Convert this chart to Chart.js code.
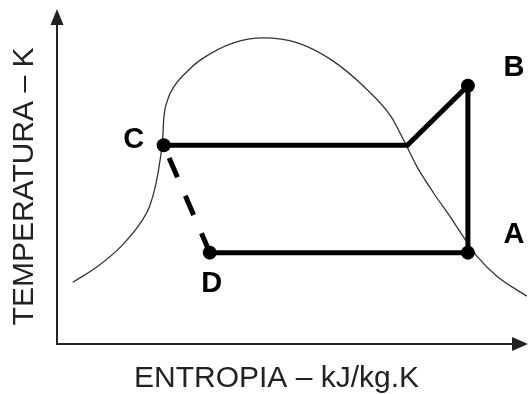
<!DOCTYPE html>
<html>
<head>
<meta charset="utf-8">
<script src="https://cdn.jsdelivr.net/npm/chart.js@4.4.1/dist/chart.umd.min.js"></script>
<style>
    html, body { margin: 0; padding: 0; background: #fff; }
    #wrap { width: 528px; height: 394px; }
</style>
</head>
<body>
<div id="wrap"><canvas id="tsChart" width="528" height="394"></canvas></div>
<script>
// ========================================
// Data: saturation dome + Rankine-like cycle (T-s diagram)
// ========================================
const domeEntropy = [0.36, 0.93, 1.46, 1.91, 2.11, 2.25, 2.36, 2.41, 2.43, 2.52, 2.66, 3.0, 3.27, 4.02, 4.7, 5.48, 6.25, 7.0, 7.61, 7.89, 8.2, 8.57, 8.95, 9.25, 9.57, 10.02, 10.7];
const domeTemp    = [19.6, 24.7, 31.0, 38.6, 43.7, 50.6, 59.5, 65.8, 71.2, 77.5, 81.6, 87.0, 90.2, 95.6, 97.2, 95.6, 90.2, 81.6, 72.2, 64.9, 56.3, 48.1, 40.5, 34.2, 27.8, 21.5, 15.2];

// cycle path: C -> (saturated vapour) -> B -> A -> D -> back to C (dashed)
const cycleEntropy = [2.43, 7.98, 9.36, 9.36, 3.48, 2.43];
const cycleTemp    = [63.1, 63.1, 82.0, 29.0, 29.0, 63.1];
const cycleLabels  = ['C', '', 'B', 'A', 'D', ''];

const xTitle = 'ENTROPIA – kJ/kg.K';
const yTitle = 'TEMPERATURA – K';

const toPoints = (xs, ys) => xs.map((x, i) => ({ x: x, y: ys[i] }));

// ========================================
// Plugin: axis arrows + point letters
// ========================================
const labelOffsets = {
    C: [-30, -5],
    B: [46, -18],
    A: [46, -18],
    D: [2, 31]
};

const arrowsAndLabels = {
    id: 'arrowsAndLabels',
    afterDraw(chart) {
        const ctx = chart.ctx;
        const area = chart.chartArea;
        ctx.save();
        ctx.strokeStyle = '#222';
        ctx.fillStyle = '#222';
        ctx.lineWidth = 2;

        // y axis arrow
        ctx.beginPath();
        ctx.moveTo(area.left, area.top);
        ctx.lineTo(area.left, 24);
        ctx.stroke();
        ctx.beginPath();
        ctx.moveTo(area.left, 9);
        ctx.lineTo(area.left - 6.5, 25);
        ctx.lineTo(area.left + 6.5, 25);
        ctx.closePath();
        ctx.fill();

        // x axis arrow
        ctx.beginPath();
        ctx.moveTo(area.right, area.bottom);
        ctx.lineTo(513, area.bottom);
        ctx.stroke();
        ctx.beginPath();
        ctx.moveTo(528, area.bottom);
        ctx.lineTo(512, area.bottom - 7);
        ctx.lineTo(512, area.bottom + 7);
        ctx.closePath();
        ctx.fill();

        // point letters
        const meta = chart.getDatasetMeta(1);
        ctx.fillStyle = '#000';
        ctx.font = 'bold 29px "Liberation Sans", Arial, sans-serif';
        ctx.textAlign = 'center';
        ctx.textBaseline = 'middle';
        meta.data.forEach((pt, i) => {
            const txt = cycleLabels[i];
            if (!txt) return;
            const off = labelOffsets[txt];
            ctx.fillText(txt, pt.x + off[0], pt.y + off[1]);
        });
        ctx.restore();
    }
};

// ========================================
// Chart
// ========================================
const ctx = document.getElementById('tsChart');
new Chart(ctx, {
    type: 'scatter',
    data: {
        datasets: [
            {
                label: 'dome',
                data: toPoints(domeEntropy, domeTemp),
                showLine: true,
                borderColor: '#333',
                borderWidth: 1.3,
                pointRadius: 0,
                cubicInterpolationMode: 'monotone',
                clip: false,
                order: 2
            },
            {
                label: 'cycle',
                data: toPoints(cycleEntropy, cycleTemp),
                showLine: true,
                borderColor: '#000',
                borderWidth: 5,
                tension: 0,
                pointRadius: cycleLabels.map(l => l ? 7 : 0),
                pointBackgroundColor: '#000',
                pointBorderWidth: 0,
                segment: {
                    borderDash: c => c.p0DataIndex === 4 ? [21, 20] : undefined
                },
                clip: false,
                order: 1
            }
        ]
    },
    options: {
        responsive: false,
        animation: false,
        events: [],
        layout: {
            padding: { left: 9.5, top: 29, right: 32, bottom: 0 }
        },
        plugins: {
            legend: { display: false },
            tooltip: { enabled: false }
        },
        scales: {
            x: {
                type: 'linear',
                min: 0,
                bounds: 'data',
                // fixed max set here so the dome tail past the axis end is still drawn
                afterDataLimits: scale => { scale.max = 10; },
                ticks: { display: false },
                grid: { display: false, drawTicks: false },
                border: { display: true, color: '#222', width: 2 },
                title: {
                    display: true,
                    text: xTitle,
                    color: '#222',
                    font: { family: '"Liberation Sans", Arial, sans-serif', size: 30, lineHeight: 1 },
                    padding: { top: 20, bottom: 0 }
                }
            },
            y: {
                type: 'linear',
                min: 0,
                max: 100,
                ticks: { display: false },
                grid: { display: false, drawTicks: false },
                border: { display: true, color: '#222', width: 2 },
                title: {
                    display: true,
                    text: yTitle,
                    color: '#222',
                    font: { family: '"Liberation Sans", Arial, sans-serif', size: 30, lineHeight: 1 },
                    padding: { top: 0, bottom: 17.5 }
                }
            }
        }
    },
    plugins: [arrowsAndLabels]
});
</script>
</body>
</html>
